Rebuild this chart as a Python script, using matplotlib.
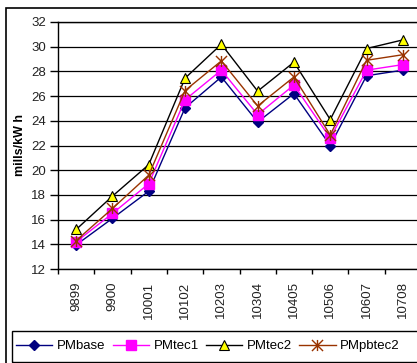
import matplotlib
matplotlib.use("Agg")
import matplotlib.pyplot as plt
from matplotlib.path import Path
from matplotlib.patches import Rectangle

plt.rcParams['font.family'] = ['Liberation Sans', 'DejaVu Sans']

years = ["9899", "9900", "10001", "10102", "10203", "10304",
         "10405", "10506", "10607", "10708"]
pm_base = [13.95, 16.1, 18.3, 25.05, 27.55, 23.9, 26.2, 22.0, 27.65, 28.1]
pm_tec1 = [14.2, 16.5, 18.9, 25.7, 28.1, 24.5, 26.9, 22.6, 28.1, 28.55]
pm_tec2 = [15.2, 17.9, 20.45, 27.45, 30.2, 26.4, 28.75, 24.1, 29.85, 30.55]
pm_pbtec2 = [14.3, 16.9, 19.6, 26.45, 28.85, 25.2, 27.55, 22.85, 28.9, 29.35]

# Excel-style "star": an x with a vertical stroke through it
star = Path([(-1, -1), (1, 1), (-1, 1), (1, -1), (0, -1), (0, 1)],
            [Path.MOVETO, Path.LINETO, Path.MOVETO, Path.LINETO,
             Path.MOVETO, Path.LINETO])

W, H = 417, 363
fig = plt.figure(figsize=(W / 100, H / 100), dpi=100)
fig.patch.set_facecolor("white")

# outer chart frame, right and bottom edges run off the canvas
fig.patches.append(Rectangle((6 / W, -0.2), 1.2, 0.2 + 1 - 8 / H,
                             transform=fig.transFigure, fill=False,
                             edgecolor="black", linewidth=1.2))
# legend box, also running past the right edge
fig.patches.append(Rectangle((12 / W, 1 - 362 / H), 1.2, 31 / H,
                             transform=fig.transFigure, fill=False,
                             edgecolor="black", linewidth=1))

ax = fig.add_axes([58 / W, 1 - 269 / H, 363 / W, 247 / H])
x = range(len(years))

ax.plot(x, pm_base, color="#000080", lw=1, marker="D", ms=5,
        mfc="#000080", mec="#000080", label="PMbase")
ax.plot(x, pm_tec1, color="#FF00FF", lw=1, marker="s", ms=7,
        mfc="#FF00FF", mec="#FF00FF", label="PMtec1")
ax.plot(x, pm_tec2, color="black", lw=1, marker="^", ms=7,
        mfc="#FFFF00", mec="black", mew=0.8, label="PMtec2")
ax.plot(x, pm_pbtec2, color="#993300", lw=1, marker=star, ms=8,
        mfc="none", mec="#993300", mew=1, label="PMpbtec2")

ax.set_xlim(-0.5, 9.5)
ax.set_ylim(12, 32)
ax.set_yticks(range(12, 33, 2))
ax.yaxis.grid(True, color="black", lw=0.9)
ax.set_axisbelow(True)

ax.set_xticks(list(x))
ax.set_xticklabels(years, rotation=90, fontsize=9.5, color="#222222")
ax.set_xticks([i - 0.5 for i in range(len(years) + 1)], minor=True)
ax.tick_params(axis="x", which="major", length=0, pad=9)
ax.tick_params(axis="x", which="minor", length=3.5, width=1, color="black")
ax.tick_params(axis="y", length=5.5, width=1, pad=3, labelsize=9.5,
               labelcolor="#222222")

for side in ("left", "bottom", "top"):
    ax.spines[side].set_color("black")
    ax.spines[side].set_linewidth(1)
ax.spines["right"].set_visible(False)

fig.text(20 / W, 1 - 145 / H, "mills/kW h", rotation=90, fontsize=9,
         fontweight="bold", ha="center", va="center")

fig.legend(loc="center left", ncol=4, fontsize=9.5,
           bbox_to_anchor=(16 / W, 1 - 346 / H), frameon=False,
           handlelength=2.75, handletextpad=0.35, columnspacing=0.55,
           borderaxespad=0, borderpad=0)

fig.savefig("out.png", dpi=100)
